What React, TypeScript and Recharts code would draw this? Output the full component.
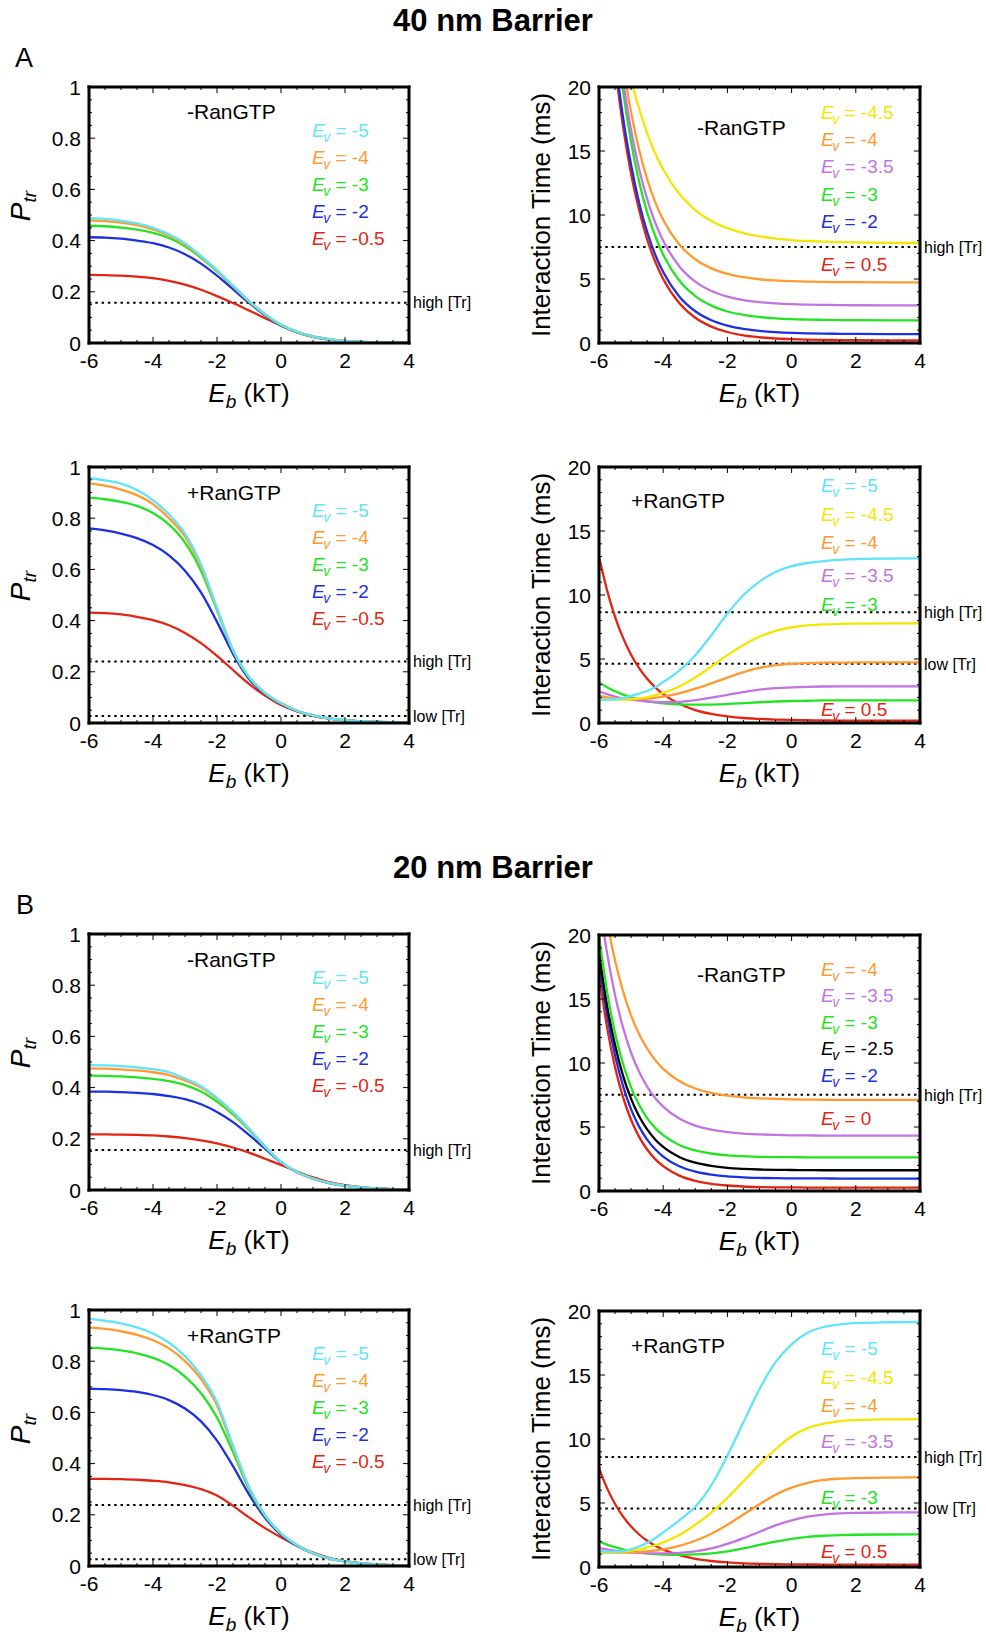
import React from "react";
import { LineChart, Line, XAxis, YAxis, ReferenceLine } from "recharts";

// Transport probability and interaction time vs barrier energy E_b, for two barrier widths.

const FONT = '"Liberation Sans", Arial, Helvetica, sans-serif';

const EB_PTR = [-6, -5.5, -5, -4.5, -4, -3.5, -3, -2.5, -2, -1.5, -1, -0.5, 0, 0.5, 1, 1.5, 2, 2.5, 3, 3.5, 4];
const EB_TIME = [-6, -5.75, -5.5, -5.25, -5, -4.75, -4.5, -4.25, -4, -3.5, -3, -2.5, -2, -1.5, -1, -0.5, 0, 0.5, 1, 1.5, 2, 3, 4];

// ---- 40 nm barrier, P_tr, -RanGTP
const PTR40_MINUS_EV5 = [0.488, 0.485, 0.478, 0.467, 0.45, 0.425, 0.39, 0.34, 0.285, 0.225, 0.165, 0.113, 0.072, 0.044, 0.026, 0.015, 0.008, 0.004, 0.002, 0.001, 0.0005];
const PTR40_MINUS_EV4 = [0.479, 0.476, 0.47, 0.46, 0.444, 0.42, 0.385, 0.337, 0.282, 0.222, 0.163, 0.112, 0.071, 0.043, 0.025, 0.014, 0.008, 0.004, 0.002, 0.001, 0.0005];
const PTR40_MINUS_EV3 = [0.458, 0.456, 0.451, 0.443, 0.43, 0.41, 0.378, 0.333, 0.28, 0.221, 0.162, 0.111, 0.07, 0.042, 0.024, 0.014, 0.007, 0.004, 0.002, 0.001, 0.0005];
const PTR40_MINUS_EV2 = [0.413, 0.412, 0.408, 0.4, 0.39, 0.373, 0.347, 0.31, 0.263, 0.21, 0.157, 0.108, 0.068, 0.041, 0.024, 0.013, 0.007, 0.004, 0.002, 0.001, 0.0005];
const PTR40_MINUS_EV05 = [0.266, 0.265, 0.263, 0.259, 0.253, 0.243, 0.228, 0.208, 0.183, 0.156, 0.127, 0.097, 0.068, 0.044, 0.026, 0.015, 0.008, 0.004, 0.002, 0.001, 0.0005];

// ---- 40 nm barrier, P_tr, +RanGTP
const PTR40_PLUS_EV5 = [0.956, 0.948, 0.935, 0.91, 0.87, 0.815, 0.74, 0.62, 0.45, 0.285, 0.18, 0.118, 0.077, 0.048, 0.03, 0.018, 0.011, 0.007, 0.004, 0.003, 0.002];
const PTR40_PLUS_EV4 = [0.936, 0.927, 0.912, 0.89, 0.855, 0.8, 0.728, 0.61, 0.445, 0.283, 0.179, 0.117, 0.077, 0.048, 0.03, 0.018, 0.011, 0.007, 0.004, 0.003, 0.002];
const PTR40_PLUS_EV3 = [0.88, 0.874, 0.864, 0.848, 0.82, 0.775, 0.705, 0.595, 0.44, 0.282, 0.178, 0.117, 0.077, 0.048, 0.03, 0.018, 0.011, 0.007, 0.004, 0.003, 0.002];
const PTR40_PLUS_EV2 = [0.76, 0.752, 0.74, 0.722, 0.695, 0.655, 0.595, 0.51, 0.395, 0.27, 0.172, 0.114, 0.075, 0.047, 0.029, 0.018, 0.011, 0.007, 0.004, 0.003, 0.002];
const PTR40_PLUS_EV05 = [0.431, 0.429, 0.424, 0.415, 0.402, 0.382, 0.352, 0.312, 0.262, 0.207, 0.153, 0.107, 0.07, 0.045, 0.028, 0.017, 0.01, 0.006, 0.004, 0.002, 0.001];

// ---- 20 nm barrier, P_tr, -RanGTP
const PTR20_MINUS_EV5 = [0.488, 0.487, 0.484, 0.479, 0.472, 0.46, 0.435, 0.405, 0.36, 0.305, 0.24, 0.17, 0.11, 0.07, 0.045, 0.028, 0.017, 0.01, 0.006, 0.003, 0.002];
const PTR20_MINUS_EV4 = [0.475, 0.474, 0.471, 0.467, 0.46, 0.449, 0.428, 0.4, 0.356, 0.302, 0.238, 0.169, 0.11, 0.07, 0.045, 0.028, 0.017, 0.01, 0.006, 0.003, 0.002];
const PTR20_MINUS_EV3 = [0.447, 0.446, 0.444, 0.44, 0.434, 0.425, 0.41, 0.385, 0.345, 0.295, 0.235, 0.168, 0.11, 0.07, 0.045, 0.028, 0.017, 0.01, 0.006, 0.003, 0.002];
const PTR20_MINUS_EV2 = [0.384, 0.384, 0.382, 0.379, 0.375, 0.367, 0.355, 0.335, 0.305, 0.265, 0.215, 0.162, 0.108, 0.069, 0.044, 0.027, 0.017, 0.01, 0.006, 0.003, 0.002];
const PTR20_MINUS_EV05 = [0.217, 0.217, 0.216, 0.215, 0.213, 0.209, 0.203, 0.194, 0.182, 0.166, 0.146, 0.122, 0.098, 0.072, 0.049, 0.031, 0.019, 0.011, 0.006, 0.003, 0.002];

// ---- 20 nm barrier, P_tr, +RanGTP
const PTR20_PLUS_EV5 = [0.965, 0.958, 0.948, 0.932, 0.908, 0.872, 0.82, 0.745, 0.64, 0.47, 0.31, 0.2, 0.128, 0.082, 0.05, 0.03, 0.018, 0.01, 0.006, 0.003, 0.002];
const PTR20_PLUS_EV4 = [0.932, 0.926, 0.917, 0.903, 0.882, 0.85, 0.8, 0.73, 0.628, 0.462, 0.306, 0.198, 0.127, 0.082, 0.05, 0.03, 0.018, 0.01, 0.006, 0.003, 0.002];
const PTR20_PLUS_EV3 = [0.853, 0.849, 0.842, 0.831, 0.813, 0.785, 0.74, 0.675, 0.58, 0.445, 0.3, 0.196, 0.126, 0.081, 0.05, 0.03, 0.018, 0.01, 0.006, 0.003, 0.002];
const PTR20_PLUS_EV2 = [0.693, 0.691, 0.687, 0.68, 0.668, 0.648, 0.615, 0.565, 0.49, 0.39, 0.28, 0.188, 0.122, 0.079, 0.049, 0.03, 0.018, 0.01, 0.006, 0.003, 0.002];
const PTR20_PLUS_EV05 = [0.34, 0.34, 0.339, 0.337, 0.333, 0.327, 0.316, 0.3, 0.275, 0.235, 0.19, 0.148, 0.112, 0.079, 0.052, 0.032, 0.019, 0.011, 0.006, 0.003, 0.002];

// ---- 40 nm barrier, interaction time (ms), -RanGTP
const T40_MINUS_EV45 = [36.3, 31.1, 26.9, 23.4, 20.6, 18.3, 16.4, 14.8, 13.56, 11.66, 10.39, 9.54, 8.97, 8.59, 8.33, 8.16, 8.04, 7.97, 7.92, 7.88, 7.86, 7.83, 7.81];
const T40_MINUS_EV4 = [40.8, 32.8, 26.6, 21.8, 18.0, 15.1, 12.8, 11.0, 9.62, 7.7, 6.54, 5.83, 5.4, 5.14, 4.98, 4.89, 4.83, 4.79, 4.77, 4.76, 4.75, 4.74, 4.74];
const T40_MINUS_EV35 = [40.2, 31.9, 25.5, 20.5, 16.6, 13.6, 11.25, 9.41, 7.98, 6.0, 4.79, 4.06, 3.62, 3.35, 3.19, 3.09, 3.03, 3.0, 2.98, 2.96, 2.95, 2.94, 2.94];
const T40_MINUS_EV3 = [39.7, 31.3, 24.8, 19.7, 15.7, 12.6, 10.2, 8.36, 6.9, 4.88, 3.66, 2.92, 2.46, 2.19, 2.03, 1.92, 1.86, 1.83, 1.81, 1.79, 1.78, 1.77, 1.77];
const T40_MINUS_EV2 = [36.5, 28.5, 22.4, 17.6, 13.9, 10.95, 8.68, 6.91, 5.54, 3.64, 2.48, 1.78, 1.36, 1.1, 0.94, 0.85, 0.79, 0.75, 0.73, 0.72, 0.71, 0.7, 0.7];
const T40_MINUS_EV05P = [35.6, 27.8, 21.7, 16.9, 13.2, 10.4, 8.1, 6.37, 5.0, 3.12, 1.97, 1.28, 0.86, 0.6, 0.45, 0.35, 0.3, 0.26, 0.24, 0.23, 0.22, 0.21, 0.21];

// ---- 40 nm barrier, interaction time (ms), +RanGTP
const T40_PLUS_EV5 = [1.85, 1.82, 1.85, 1.95, 2.1, 2.3, 2.5, 2.8, 3.2, 4.1, 5.3, 6.85, 8.55, 10.0, 11.05, 11.8, 12.25, 12.5, 12.65, 12.74, 12.8, 12.84, 12.86];
const T40_PLUS_EV45 = [1.9, 1.85, 1.82, 1.82, 1.86, 1.93, 2.03, 2.17, 2.35, 2.85, 3.55, 4.4, 5.3, 6.1, 6.75, 7.2, 7.48, 7.63, 7.71, 7.75, 7.77, 7.79, 7.79];
const T40_PLUS_EV4 = [2.13, 2.0, 1.92, 1.87, 1.85, 1.86, 1.9, 1.97, 2.06, 2.32, 2.68, 3.1, 3.55, 3.97, 4.3, 4.52, 4.63, 4.68, 4.71, 4.72, 4.73, 4.73, 4.73];
const T40_PLUS_EV35 = [2.47, 2.25, 2.07, 1.93, 1.82, 1.74, 1.68, 1.64, 1.62, 1.65, 1.78, 1.98, 2.2, 2.42, 2.6, 2.72, 2.79, 2.83, 2.85, 2.86, 2.86, 2.86, 2.86];
const T40_PLUS_EV3 = [3.17, 2.8, 2.48, 2.22, 2.0, 1.84, 1.71, 1.61, 1.54, 1.46, 1.43, 1.44, 1.48, 1.55, 1.62, 1.68, 1.72, 1.74, 1.76, 1.77, 1.77, 1.77, 1.77];
const T40_PLUS_EV05P = [12.98, 10.38, 8.3, 6.65, 5.33, 4.28, 3.45, 2.78, 2.25, 1.5, 1.01, 0.71, 0.52, 0.39, 0.32, 0.27, 0.24, 0.22, 0.2, 0.19, 0.19, 0.18, 0.18];

// ---- 20 nm barrier, interaction time (ms), -RanGTP
const T20_MINUS_EV4 = [25.0, 21.1, 18.0, 15.6, 13.7, 12.25, 11.12, 10.23, 9.54, 8.59, 8.01, 7.66, 7.45, 7.32, 7.24, 7.19, 7.16, 7.14, 7.13, 7.12, 7.12, 7.12, 7.12];
const T20_MINUS_EV35 = [22.9, 18.6, 15.3, 12.76, 10.8, 9.31, 8.16, 7.27, 6.59, 5.66, 5.11, 4.79, 4.6, 4.48, 4.42, 4.38, 4.35, 4.34, 4.33, 4.32, 4.32, 4.32, 4.32];
const T20_MINUS_EV3 = [19.9, 15.6, 12.35, 9.92, 8.1, 6.73, 5.7, 4.93, 4.36, 3.6, 3.17, 2.93, 2.79, 2.72, 2.67, 2.65, 2.64, 2.63, 2.62, 2.62, 2.62, 2.62, 2.62];
const T20_MINUS_EV25 = [18.7, 14.5, 11.4, 9.0, 7.2, 5.84, 4.81, 4.03, 3.44, 2.66, 2.21, 1.96, 1.81, 1.73, 1.68, 1.65, 1.64, 1.63, 1.62, 1.62, 1.62, 1.62, 1.62];
const T20_MINUS_EV2 = [18.1, 13.8, 10.6, 8.19, 6.38, 5.03, 4.02, 3.26, 2.69, 1.93, 1.51, 1.28, 1.14, 1.07, 1.02, 1.0, 0.99, 0.98, 0.98, 0.97, 0.97, 0.97, 0.97];
const T20_MINUS_EV0 = [17.0, 12.8, 9.66, 7.31, 5.55, 4.23, 3.24, 2.49, 1.94, 1.2, 0.79, 0.56, 0.43, 0.35, 0.31, 0.29, 0.28, 0.27, 0.27, 0.26, 0.26, 0.26, 0.26];

// ---- 20 nm barrier, interaction time (ms), +RanGTP
const T20_PLUS_EV5 = [1.25, 1.2, 1.2, 1.25, 1.4, 1.6, 1.9, 2.25, 2.7, 3.65, 4.7, 6.4, 8.7, 11.3, 13.9, 16.0, 17.4, 18.3, 18.75, 18.95, 19.05, 19.12, 19.15];
const T20_PLUS_EV45 = [1.1, 1.12, 1.15, 1.2, 1.28, 1.38, 1.52, 1.7, 1.92, 2.5, 3.3, 4.25, 5.4, 6.7, 8.0, 9.2, 10.2, 10.85, 11.2, 11.4, 11.48, 11.54, 11.56];
const T20_PLUS_EV4 = [1.15, 1.13, 1.12, 1.12, 1.14, 1.17, 1.22, 1.29, 1.38, 1.65, 2.05, 2.6, 3.3, 4.1, 4.9, 5.65, 6.2, 6.58, 6.8, 6.9, 6.95, 6.99, 7.0];
const T20_PLUS_EV35 = [1.5, 1.38, 1.28, 1.2, 1.14, 1.1, 1.07, 1.06, 1.06, 1.1, 1.22, 1.45, 1.8, 2.25, 2.75, 3.25, 3.65, 3.93, 4.1, 4.19, 4.23, 4.26, 4.27];
const T20_PLUS_EV3 = [2.0, 1.75, 1.55, 1.38, 1.25, 1.14, 1.06, 1.0, 0.97, 0.95, 0.98, 1.07, 1.22, 1.45, 1.72, 1.98, 2.2, 2.35, 2.44, 2.49, 2.52, 2.54, 2.55];
const T20_PLUS_EV05P = [7.73, 6.16, 4.92, 3.94, 3.16, 2.54, 2.05, 1.66, 1.36, 0.92, 0.64, 0.47, 0.36, 0.29, 0.25, 0.22, 0.21, 0.2, 0.19, 0.18, 0.18, 0.18, 0.18];

// threshold levels (dotted lines)
const PTR40_MINUS_HIGH = 0.157;
const PTR40_PLUS_HIGH = 0.24;
const PTR40_PLUS_LOW = 0.027;
const PTR20_MINUS_HIGH = 0.156;
const PTR20_PLUS_HIGH = 0.238;
const PTR20_PLUS_LOW = 0.026;
const T40_MINUS_HIGH = 7.5;
const T40_PLUS_HIGH = 8.65;
const T40_PLUS_LOW = 4.62;
const T20_MINUS_HIGH = 7.51;
const T20_PLUS_HIGH = 8.59;
const T20_PLUS_LOW = 4.58;

const C = {
  cyan: "#5fe4fb",
  orange: "#ff9a30",
  green: "#22e422",
  blue: "#1c30e2",
  red: "#e32412",
  yellow: "#f4e600",
  purple: "#c274e2",
  black: "#000000",
};

type Series = { label: string; color: string; values: number[] };
type Ref = { y: number; label: string };
type Panel = {
  plotLeft: number;
  plotTop: number;
  plotWidth: number;
  kind: "ptr" | "time";
  x: number[];
  series: Series[];
  condition: string;
  condDx: number;
  condDy: number;
  legendDx: number;
  legendDy: number[];
  refs: Ref[];
};

const PLOT_H = 256;
const PAD_TOP = 40;
const CHART_W = 493;
const CHART_H = 376;

const LEG_PTR = [50, 77, 104, 131, 158];

const PANELS: Panel[] = [
  {
    plotLeft: 89, plotTop: 87, plotWidth: 320, kind: "ptr", x: EB_PTR,
    series: [
      { label: "-5", color: C.cyan, values: PTR40_MINUS_EV5 },
      { label: "-4", color: C.orange, values: PTR40_MINUS_EV4 },
      { label: "-3", color: C.green, values: PTR40_MINUS_EV3 },
      { label: "-2", color: C.blue, values: PTR40_MINUS_EV2 },
      { label: "-0.5", color: C.red, values: PTR40_MINUS_EV05 },
    ],
    condition: "-RanGTP", condDx: 98, condDy: 32, legendDx: 223, legendDy: LEG_PTR,
    refs: [{ y: PTR40_MINUS_HIGH, label: "high [Tr]" }],
  },
  {
    plotLeft: 599, plotTop: 87, plotWidth: 321, kind: "time", x: EB_TIME,
    series: [
      { label: "-4.5", color: C.yellow, values: T40_MINUS_EV45 },
      { label: "-4", color: C.orange, values: T40_MINUS_EV4 },
      { label: "-3.5", color: C.purple, values: T40_MINUS_EV35 },
      { label: "-3", color: C.green, values: T40_MINUS_EV3 },
      { label: "-2", color: C.blue, values: T40_MINUS_EV2 },
      { label: "0.5", color: C.red, values: T40_MINUS_EV05P },
    ],
    condition: "-RanGTP", condDx: 98, condDy: 48, legendDx: 222, legendDy: [32, 59, 86, 114, 141, 184],
    refs: [{ y: T40_MINUS_HIGH, label: "high [Tr]" }],
  },
  {
    plotLeft: 89, plotTop: 467, plotWidth: 320, kind: "ptr", x: EB_PTR,
    series: [
      { label: "-5", color: C.cyan, values: PTR40_PLUS_EV5 },
      { label: "-4", color: C.orange, values: PTR40_PLUS_EV4 },
      { label: "-3", color: C.green, values: PTR40_PLUS_EV3 },
      { label: "-2", color: C.blue, values: PTR40_PLUS_EV2 },
      { label: "-0.5", color: C.red, values: PTR40_PLUS_EV05 },
    ],
    condition: "+RanGTP", condDx: 98, condDy: 33, legendDx: 223, legendDy: LEG_PTR,
    refs: [
      { y: PTR40_PLUS_HIGH, label: "high [Tr]" },
      { y: PTR40_PLUS_LOW, label: "low [Tr]" },
    ],
  },
  {
    plotLeft: 599, plotTop: 467, plotWidth: 321, kind: "time", x: EB_TIME,
    series: [
      { label: "-5", color: C.cyan, values: T40_PLUS_EV5 },
      { label: "-4.5", color: C.yellow, values: T40_PLUS_EV45 },
      { label: "-4", color: C.orange, values: T40_PLUS_EV4 },
      { label: "-3.5", color: C.purple, values: T40_PLUS_EV35 },
      { label: "-3", color: C.green, values: T40_PLUS_EV3 },
      { label: "0.5", color: C.red, values: T40_PLUS_EV05P },
    ],
    condition: "+RanGTP", condDx: 32, condDy: 41, legendDx: 222, legendDy: [25, 54, 82, 115, 144, 249],
    refs: [
      { y: T40_PLUS_HIGH, label: "high [Tr]" },
      { y: T40_PLUS_LOW, label: "low [Tr]" },
    ],
  },
  {
    plotLeft: 89, plotTop: 934, plotWidth: 320, kind: "ptr", x: EB_PTR,
    series: [
      { label: "-5", color: C.cyan, values: PTR20_MINUS_EV5 },
      { label: "-4", color: C.orange, values: PTR20_MINUS_EV4 },
      { label: "-3", color: C.green, values: PTR20_MINUS_EV3 },
      { label: "-2", color: C.blue, values: PTR20_MINUS_EV2 },
      { label: "-0.5", color: C.red, values: PTR20_MINUS_EV05 },
    ],
    condition: "-RanGTP", condDx: 98, condDy: 33, legendDx: 223, legendDy: LEG_PTR,
    refs: [{ y: PTR20_MINUS_HIGH, label: "high [Tr]" }],
  },
  {
    plotLeft: 599, plotTop: 935, plotWidth: 321, kind: "time", x: EB_TIME,
    series: [
      { label: "-4", color: C.orange, values: T20_MINUS_EV4 },
      { label: "-3.5", color: C.purple, values: T20_MINUS_EV35 },
      { label: "-3", color: C.green, values: T20_MINUS_EV3 },
      { label: "-2.5", color: C.black, values: T20_MINUS_EV25 },
      { label: "-2", color: C.blue, values: T20_MINUS_EV2 },
      { label: "0", color: C.red, values: T20_MINUS_EV0 },
    ],
    condition: "-RanGTP", condDx: 98, condDy: 47, legendDx: 222, legendDy: [41, 67, 94, 120, 147, 190],
    refs: [{ y: T20_MINUS_HIGH, label: "high [Tr]" }],
  },
  {
    plotLeft: 89, plotTop: 1310, plotWidth: 320, kind: "ptr", x: EB_PTR,
    series: [
      { label: "-5", color: C.cyan, values: PTR20_PLUS_EV5 },
      { label: "-4", color: C.orange, values: PTR20_PLUS_EV4 },
      { label: "-3", color: C.green, values: PTR20_PLUS_EV3 },
      { label: "-2", color: C.blue, values: PTR20_PLUS_EV2 },
      { label: "-0.5", color: C.red, values: PTR20_PLUS_EV05 },
    ],
    condition: "+RanGTP", condDx: 98, condDy: 33, legendDx: 223, legendDy: LEG_PTR,
    refs: [
      { y: PTR20_PLUS_HIGH, label: "high [Tr]" },
      { y: PTR20_PLUS_LOW, label: "low [Tr]" },
    ],
  },
  {
    plotLeft: 599, plotTop: 1311, plotWidth: 321, kind: "time", x: EB_TIME,
    series: [
      { label: "-5", color: C.cyan, values: T20_PLUS_EV5 },
      { label: "-4.5", color: C.yellow, values: T20_PLUS_EV45 },
      { label: "-4", color: C.orange, values: T20_PLUS_EV4 },
      { label: "-3.5", color: C.purple, values: T20_PLUS_EV35 },
      { label: "-3", color: C.green, values: T20_PLUS_EV3 },
      { label: "0.5", color: C.red, values: T20_PLUS_EV05P },
    ],
    condition: "+RanGTP", condDx: 32, condDy: 42, legendDx: 222, legendDy: [44, 73, 101, 137, 193, 247],
    refs: [
      { y: T20_PLUS_HIGH, label: "high [Tr]" },
      { y: T20_PLUS_LOW, label: "low [Tr]" },
    ],
  },
];

const X_TICKS = Array.from({ length: 21 }, (_, i) => -6 + i * 0.5);
const X_MAJOR = [-6, -4, -2, 0, 2, 4];
const PTR_TICKS = Array.from({ length: 21 }, (_, i) => +(i * 0.05).toFixed(2));
const PTR_MAJOR = [0, 0.2, 0.4, 0.6, 0.8, 1];
const TIME_TICKS = Array.from({ length: 21 }, (_, i) => i);
const TIME_MAJOR = [0, 5, 10, 15, 20];

const AXIS_LINE = { stroke: "#000", strokeWidth: 3, strokeLinecap: "square" as const };

type Side = "bottom" | "top" | "left" | "right";

// inward tick marks (long at majors), labels only on bottom/left
function tickRenderer(side: Side, majors: number[], labelled: boolean) {
  return (props: any) => {
    const { x, y, payload } = props;
    const v = payload.value;
    const major = majors.some((m) => Math.abs(m - v) < 1e-6);
    const len = major ? 6 : 3;
    const dx = side === "left" ? len : side === "right" ? -len : 0;
    const dy = side === "bottom" ? -len : side === "top" ? len : 0;
    return (
      <g>
        <line x1={x} y1={y} x2={x + dx} y2={y + dy} stroke="#000" strokeWidth={1} />
        {labelled && major && side === "bottom" && (
          <text x={x} y={y + 25} textAnchor="middle" fontSize={21} fill="#000" fontFamily={FONT}>
            {String(v)}
          </text>
        )}
        {labelled && major && side === "left" && (
          <text x={x - 8} y={y} dy="0.36em" textAnchor="end" fontSize={21} fill="#000" fontFamily={FONT}>
            {String(v)}
          </text>
        )}
      </g>
    );
  };
}

function PanelChart({ p }: { p: Panel }) {
  const chartLeft = p.plotLeft < CHART_W ? 0 : CHART_W;
  const relLeft = p.plotLeft - chartLeft;
  const isPtr = p.kind === "ptr";
  const yDomain: [number, number] = isPtr ? [0, 1] : [0, 20];
  const yTicks = isPtr ? PTR_TICKS : TIME_TICKS;
  const yMajor = isPtr ? PTR_MAJOR : TIME_MAJOR;

  const rows = p.x.map((x, i) => {
    const r: Record<string, number> = { x };
    p.series.forEach((s, j) => {
      r["s" + j] = s.values[i];
    });
    return r;
  });

  const drawOrder = p.series.map((s, j) => ({ s, j })).reverse();

  return (
    <div style={{ position: "absolute", left: chartLeft, top: p.plotTop - PAD_TOP }}>
      <LineChart
        width={CHART_W}
        height={CHART_H}
        data={rows}
        margin={{
          top: PAD_TOP - 1,
          left: relLeft - 60,
          right: CHART_W - relLeft - p.plotWidth - 1,
          bottom: CHART_H - PAD_TOP - PLOT_H - 1,
        }}
      >
        {p.refs.map((r, i) => (
          <ReferenceLine
            key={i}
            xAxisId="b"
            yAxisId="l"
            y={r.y}
            stroke="#000"
            strokeWidth={2}
            strokeDasharray="2.5 3.8"
            label={{ value: r.label, position: "right", offset: 4, fontSize: 16, fill: "#000", fontFamily: FONT }}
          />
        ))}
        {drawOrder.map(({ s, j }) => (
          <Line
            key={j}
            xAxisId="b"
            yAxisId="l"
            type="monotone"
            dataKey={"s" + j}
            stroke={s.color}
            strokeWidth={2.3}
            dot={false}
            activeDot={false}
            isAnimationActive={false}
          />
        ))}
        <XAxis
          xAxisId="b"
          orientation="bottom"
          type="number"
          dataKey="x"
          domain={[-6, 4]}
          allowDataOverflow
          ticks={X_TICKS}
          interval={0}
          height={1}
          tickSize={0}
          tickMargin={0}
          tickLine={false}
          axisLine={AXIS_LINE}
          tick={tickRenderer("bottom", X_MAJOR, true)}
        />
        <XAxis
          xAxisId="t"
          orientation="top"
          type="number"
          dataKey="x"
          domain={[-6, 4]}
          allowDataOverflow
          ticks={X_TICKS}
          interval={0}
          height={1}
          tickSize={0}
          tickMargin={0}
          tickLine={false}
          axisLine={AXIS_LINE}
          tick={tickRenderer("top", X_MAJOR, false)}
        />
        <YAxis
          yAxisId="l"
          orientation="left"
          type="number"
          domain={yDomain}
          allowDataOverflow
          ticks={yTicks}
          interval={0}
          width={60}
          tickSize={0}
          tickMargin={0}
          tickLine={false}
          axisLine={AXIS_LINE}
          tick={tickRenderer("left", yMajor, true)}
        />
        <YAxis
          yAxisId="r"
          orientation="right"
          type="number"
          domain={yDomain}
          allowDataOverflow
          ticks={yTicks}
          interval={0}
          width={1}
          tickSize={0}
          tickMargin={0}
          tickLine={false}
          axisLine={AXIS_LINE}
          tick={tickRenderer("right", yMajor, false)}
        />
      </LineChart>
    </div>
  );
}

function PanelTexts({ p }: { p: Panel }) {
  const cx = p.plotLeft + p.plotWidth / 2;
  const cy = p.plotTop + PLOT_H / 2;
  const xTitleY = p.plotTop + PLOT_H + 59;
  const isPtr = p.kind === "ptr";
  const yTitleX = isPtr ? p.plotLeft - 59 : p.plotLeft - 49;
  const yTitleY = isPtr ? cy - 9 : cy;
  return (
    <g>
      <text x={p.plotLeft + p.condDx} y={p.plotTop + p.condDy} fontSize={21} fill="#000">
        {p.condition}
      </text>
      {p.series.map((s, i) => (
        <text
          key={i}
          x={p.plotLeft + p.legendDx}
          y={p.plotTop + p.legendDy[i]}
          fontSize={19}
          fill={s.color}
          style={{ whiteSpace: "pre" }}
        >
          <tspan fontStyle="italic">E</tspan>
          <tspan fontStyle="italic" fontSize={14} dx={-1.5} dy={5}>v</tspan>
          <tspan dy={-5}>{" = " + s.label}</tspan>
        </text>
      ))}
      <text x={cx} y={xTitleY} textAnchor="middle" fontSize={26} fill="#000" style={{ whiteSpace: "pre" }}>
        <tspan fontStyle="italic">E</tspan>
        <tspan fontStyle="italic" fontSize={19} dy={6}>b</tspan>
        <tspan dy={-6}>{" (kT)"}</tspan>
      </text>
      {isPtr ? (
        <text
          x={yTitleX}
          y={yTitleY}
          transform={`rotate(-90 ${yTitleX} ${yTitleY})`}
          textAnchor="middle"
          fontSize={28}
          fill="#000"
        >
          <tspan fontStyle="italic">P</tspan>
          <tspan fontStyle="italic" fontSize={19} dy={6}>tr</tspan>
        </text>
      ) : (
        <text
          x={yTitleX}
          y={yTitleY}
          transform={`rotate(-90 ${yTitleX} ${yTitleY})`}
          textAnchor="middle"
          fontSize={26}
          fill="#000"
        >
          Interaction Time (ms)
        </text>
      )}
    </g>
  );
}

export default function App() {
  return (
    <div
      style={{
        position: "absolute",
        left: 0,
        top: 0,
        width: 986,
        height: 1638,
        background: "#fff",
        fontFamily: FONT,
      }}
    >
      {PANELS.map((p, i) => (
        <PanelChart key={i} p={p} />
      ))}
      <svg
        width={986}
        height={1638}
        style={{ position: "absolute", left: 0, top: 0, pointerEvents: "none" }}
        fontFamily={FONT}
      >
        <text x={493} y={31} textAnchor="middle" fontSize={31} fontWeight="bold" fill="#000">
          40 nm Barrier
        </text>
        <text x={15} y={67} fontSize={27} fill="#000">A</text>
        <text x={493} y={878} textAnchor="middle" fontSize={31} fontWeight="bold" fill="#000">
          20 nm Barrier
        </text>
        <text x={16} y={914} fontSize={27} fill="#000">B</text>
        {PANELS.map((p, i) => (
          <PanelTexts key={i} p={p} />
        ))}
      </svg>
    </div>
  );
}
